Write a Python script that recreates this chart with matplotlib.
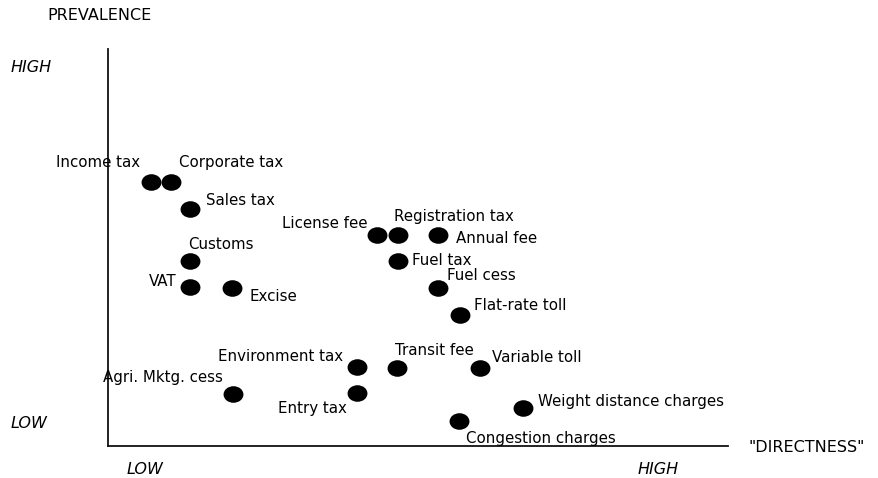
import matplotlib
matplotlib.use("Agg")
import matplotlib.pyplot as plt
from matplotlib.path import Path
from matplotlib.transforms import Affine2D

# ---- data (directness 0-100, prevalence 0-100) ----
instruments = ["Income tax", "Corporate tax", "Sales tax", "Customs", "VAT", "Excise",
               "License fee", "Registration tax", "Annual fee", "Fuel tax", "Fuel cess",
               "Flat-rate toll", "Environment tax", "Transit fee", "Variable toll",
               "Agri. Mktg. cess", "Entry tax", "Weight distance charges", "Congestion charges"]
directness = [6.9, 10.2, 13.2, 13.2, 13.2, 20.0,
              43.4, 46.7, 53.2, 46.7, 53.2,
              56.8, 40.2, 46.6, 60.0,
              20.2, 40.2, 66.9, 56.6]
prevalence = [66.5, 66.5, 59.7, 46.6, 40.1, 39.8,
              53.1, 53.1, 53.1, 46.6, 39.8,
              32.9, 19.9, 19.6, 19.6,
              13.1, 13.4, 9.6, 6.3]

# label placement (pixel offsets from dot centre, horizontal alignment)
label_layout = {
    "Income tax": (-11, 19, "right"),
    "Corporate tax": (8, 19, "left"),
    "Sales tax": (16, 8, "left"),
    "Customs": (-2, 16, "left"),
    "VAT": (-13, 5, "right"),
    "Excise": (18, -9, "left"),
    "License fee": (-10, 12, "right"),
    "Registration tax": (-4, 19, "left"),
    "Annual fee": (18, -3, "left"),
    "Fuel tax": (14, 0, "left"),
    "Fuel cess": (9, 12, "left"),
    "Flat-rate toll": (14, 10, "left"),
    "Environment tax": (-14, 10, "right"),
    "Transit fee": (-2, 18, "left"),
    "Variable toll": (12, 11, "left"),
    "Agri. Mktg. cess": (-10, 16, "right"),
    "Entry tax": (-10, -16, "right"),
    "Weight distance charges": (15, 6, "left"),
    "Congestion charges": (7, -18, "left"),
}

plt.rcParams['font.family'] = ['DejaVu Sans']
FS = 10.8
FS_CAPS = 11.5

W, H = 879, 478
fig = plt.figure(figsize=(W / 100, H / 100), dpi=100)
ax = fig.add_axes([108 / W, (H - 446) / H, 620 / W, 397 / H])
ax.set_xlim(0, 100)
ax.set_ylim(0, 100)
for s in ("top", "right"):
    ax.spines[s].set_visible(False)
for s in ("left", "bottom"):
    ax.spines[s].set_linewidth(1.3)
    ax.spines[s].set_color("#111111")
ax.set_xticks([])
ax.set_yticks([])
ax.patch.set_alpha(0)

ell = Path.unit_circle().transformed(Affine2D().scale(1.2, 1.0))
ax.scatter(directness, prevalence, marker=ell, s=205, color="black", linewidths=0, zorder=3)

for name, x, y in zip(instruments, directness, prevalence):
    dx, dy, ha = label_layout[name]
    ax.annotate(name, (x, y), xytext=(dx * 0.72, dy * 0.72), textcoords="offset points",
                ha=ha, va="center", fontsize=FS, color="black")

def ftext(px, py, s, **kw):
    fig.text(px / W, 1 - py / H, s, va="center", fontsize=FS_CAPS, color="black", **kw)

ftext(47, 16, "PREVALENCE")
ftext(11, 67, "HIGH", style="italic")
ftext(11, 424, "LOW", style="italic")
ftext(127, 469, "LOW", style="italic")
ftext(638, 469, "HIGH", style="italic")
ftext(749, 447, "\"DIRECTNESS\"")

fig.savefig("out.png", dpi=100)
